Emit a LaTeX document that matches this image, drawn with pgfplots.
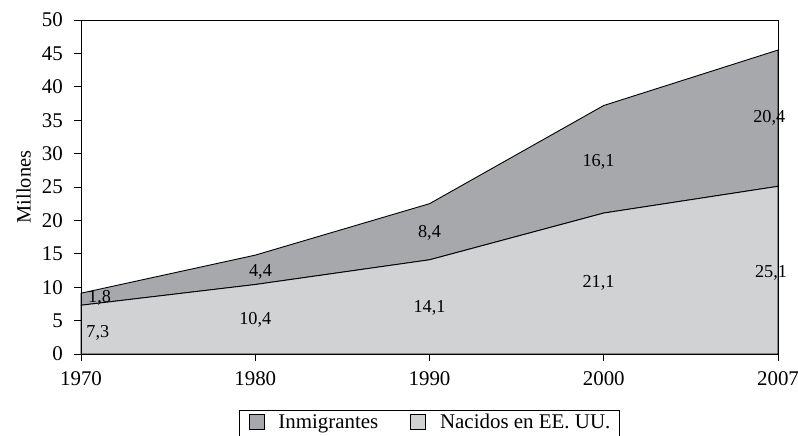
\documentclass[border=0pt]{standalone}
\usepackage{fontspec}
\setmainfont{Liberation Serif}
\usepackage{pgfplots}
\pgfplotsset{compat=1.18}
\definecolor{inm}{HTML}{A7A8AB}
\definecolor{nac}{HTML}{D1D2D4}
\begin{document}
\fontsize{21}{25}\selectfont
\begin{tikzpicture}[x=1bp,y=1bp]
\begin{axis}[
  at={(81bp,82bp)}, anchor=south west,
  scale only axis, width=697bp, height=334bp,
  xmin=0, xmax=4, ymin=0, ymax=50,
  xtick={0,1,2,3,4}, xticklabels={1970,1980,1990,2000,2007},
  ytick={0,5,...,50},
  tick align=outside, tick pos=left,
  major tick length=7bp,
  tick style={black, line width=0.8pt},
  axis line style={black, line width=0.8pt},
  ylabel={Millones},
  ylabel style={yshift=-3bp},
  every axis label/.append style={font=\fontsize{20.5}{24}\selectfont},
  tick label style={font=\fontsize{21}{25}\selectfont},
  yticklabel style={xshift=-4bp},
  xticklabel style={yshift=-3bp},
  /pgf/number format/assume math mode=true,
  stack plots=y,
  area style,
  reverse legend,
  legend style={at={(axis description cs:0.5,-0.1677)}, anchor=north, legend columns=2,
    draw=black, line width=0.6pt, font=\fontsize{21}{25}\selectfont,
    nodes={inner sep=0pt},
    /tikz/every even column/.append style={column sep=32bp},
    inner xsep=9bp, inner ysep=4bp},
  legend image code/.code={\draw[#1, draw=black, line width=0.6pt] (0bp,-6.5bp) rectangle (15bp,8.5bp); \path (29bp,0bp);},
  clip=false,
]
\addplot[fill=nac, draw=black, line width=0.9pt] coordinates {(0,7.3) (1,10.4) (2,14.1) (3,21.1) (4,25.1)} \closedcycle;
\addplot[fill=inm, draw=black, line width=0.9pt] coordinates {(0,1.8) (1,4.4) (2,8.4) (3,16.1) (4,20.4)} \closedcycle;
\legend{Nacidos en EE. UU., Inmigrantes}
\coordinate (a1) at (axis cs:0.04,8.4);
\coordinate (a2) at (axis cs:0.03,3.1);
\coordinate (b1) at (axis cs:1.03,12.3);
\coordinate (b2) at (axis cs:1.0,5.1);
\coordinate (c1) at (axis cs:2,18.1);
\coordinate (c2) at (axis cs:2,6.9);
\coordinate (d1) at (axis cs:2.97,28.7);
\coordinate (d2) at (axis cs:2.97,10.6);
\coordinate (e1) at (axis cs:3.95,35.3);
\coordinate (e2) at (axis cs:3.96,12.1);
\end{axis}
\begin{scope}[every node/.style={font=\fontsize{18.3}{22}\selectfont}]
\node[anchor=west, inner sep=0] at (a1) {1,8};
\node[anchor=west, inner sep=0] at (a2) {7,3};
\node at (b1) {4,4};
\node at (b2) {10,4};
\node at (c1) {8,4};
\node at (c2) {14,1};
\node at (d1) {16,1};
\node at (d2) {21,1};
\node at (e1) {20,4};
\node at (e2) {25,1};
\end{scope}
\pgfresetboundingbox
\path[use as bounding box] (0,0) rectangle (798,436);
\end{tikzpicture}
\end{document}
